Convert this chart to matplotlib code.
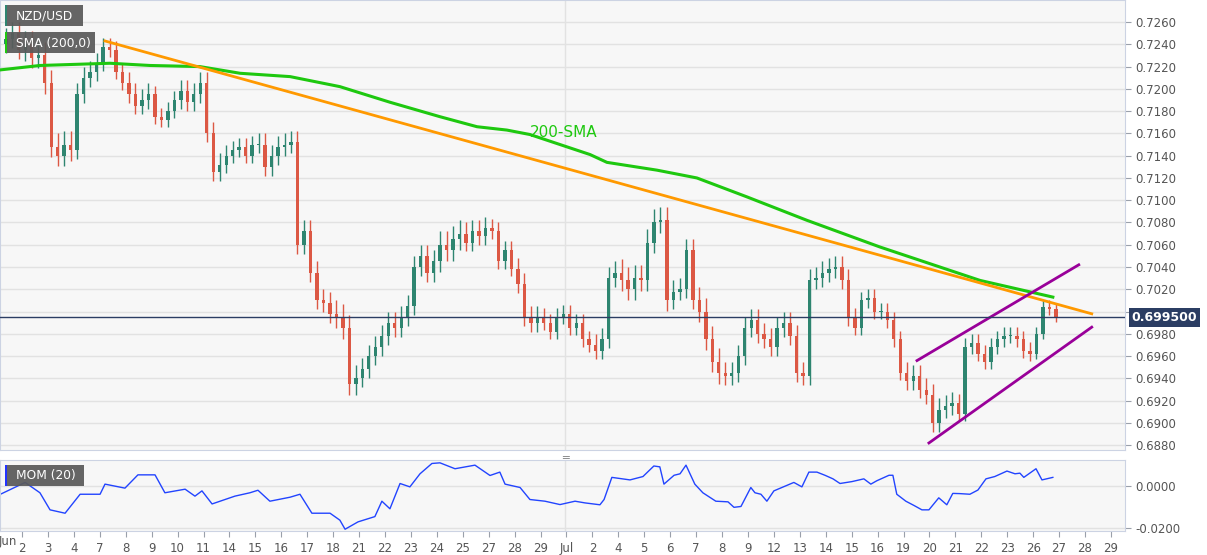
import numpy as np
import matplotlib
matplotlib.use('Agg')
import matplotlib.pyplot as plt
from matplotlib.patches import Rectangle

# 4h-ish closes, 3 candles for Jun 1 then 4 per trading day
closes = [0.7245, 0.7250, 0.7235,
          0.7240, 0.7228, 0.7230, 0.7205,
          0.7148, 0.7140, 0.7150, 0.7145,
          0.7195, 0.7210, 0.7215, 0.7222,
          0.7238, 0.7235, 0.7215, 0.7205,
          0.7195, 0.7185, 0.7190, 0.7195,
          0.7175, 0.7172, 0.7180, 0.7190,
          0.7198, 0.7188, 0.7195, 0.7205,
          0.7160, 0.7125, 0.7132, 0.7140,
          0.7145, 0.7148, 0.7140, 0.7150,
          0.7150, 0.7130, 0.7140, 0.7148,
          0.7150, 0.7152, 0.7060, 0.7072,
          0.7035, 0.7010, 0.7008, 0.6998,
          0.6995, 0.6985, 0.6935, 0.6940,
          0.6948, 0.6960, 0.6968, 0.6978,
          0.6990, 0.6985, 0.6995, 0.7005,
          0.7040, 0.7050, 0.7035, 0.7045,
          0.7060, 0.7055, 0.7065, 0.7070,
          0.7062, 0.7072, 0.7068, 0.7075,
          0.7072, 0.7045, 0.7055, 0.7038,
          0.7025, 0.6995, 0.6990, 0.6995,
          0.6990, 0.6982, 0.6995, 0.6998,
          0.6985, 0.6990, 0.6975, 0.6970,
          0.6965, 0.6975, 0.7030, 0.7035,
          0.7028, 0.7020, 0.7030, 0.7028,
          0.7062, 0.7080, 0.7082, 0.7010,
          0.7018, 0.7020, 0.7055, 0.7010,
          0.7000, 0.6975, 0.6955, 0.6945,
          0.6942, 0.6945, 0.6960, 0.6985,
          0.6992, 0.6980, 0.6975, 0.6968,
          0.6985, 0.6990, 0.6978, 0.6945,
          0.6942, 0.7028, 0.7030, 0.7035,
          0.7038, 0.7040, 0.7028, 0.6995,
          0.6985, 0.7010, 0.7012, 0.7000,
          0.7000, 0.6992, 0.6975, 0.6945,
          0.6938, 0.6942, 0.6930, 0.6925,
          0.6900, 0.6912, 0.6915, 0.6918,
          0.6908, 0.6968, 0.6972, 0.6962,
          0.6955, 0.6968, 0.6975, 0.6978,
          0.6978, 0.6975, 0.6965, 0.6962,
          0.6980, 0.7004, 0.7002, 0.6995]
first_open = 0.7240
# wick size per day (Jun 1 first)
day_wick = [0.0010, 0.0012, 0.0012, 0.0010, 0.0008, 0.0010, 0.0008, 0.0010, 0.0010,
            0.0008, 0.0010, 0.0010, 0.0010, 0.0012, 0.0010, 0.0010, 0.0010, 0.0012,
            0.0010, 0.0008, 0.0010, 0.0008, 0.0008, 0.0010, 0.0012, 0.0012, 0.0010,
            0.0012, 0.0010, 0.0010, 0.0010, 0.0010, 0.0010, 0.0008, 0.0008, 0.0010,
            0.0010, 0.0008, 0.0008, 0.0008, 0.0006]

sma_days = [-0.85, 0.69, 3.39, 4.94, 6.86, 8.41, 10.34, 12.26, 14.19, 16.12, 17.55,
            18.70, 19.59, 21.91, 22.56, 24.49, 26.03, 27.96, 30.27, 33.09, 36.95, 39.76]
sma_vals = [0.7217, 0.7221, 0.7223, 0.7221, 0.7220, 0.7214, 0.7211, 0.7202, 0.7188,
            0.7175, 0.7166, 0.7163, 0.7159, 0.7141, 0.7134, 0.7127, 0.7120, 0.7103,
            0.7082, 0.7058, 0.7028, 0.7013]

trend_days, trend_vals = [3.2, 41.26], [0.7243, 0.6998]
chan_up_days, chan_up_vals = [34.52, 40.76], [0.6956, 0.7042]
chan_lo_days, chan_lo_vals = [34.98, 41.26], [0.6882, 0.6986]
last_price = 0.6995

mom_days = [-0.85, 0.12, 0.69, 1.08, 1.66, 2.24, 3.01, 3.20, 3.97, 4.47, 5.13, 5.51,
            6.29, 6.67, 6.94, 7.33, 8.21, 8.79, 9.10, 9.56, 10.34, 10.72, 11.18, 11.88,
            12.26, 12.46, 12.96, 13.61, 13.88, 14.19, 14.58, 14.96, 15.35, 15.81, 16.12,
            16.70, 17.47, 18.05, 18.43, 18.63, 19.21, 19.59, 20.17, 20.75, 21.33, 21.71,
            22.29, 22.45, 22.75, 23.45, 23.95, 24.37, 24.60, 24.76, 25.15, 25.38, 25.61,
            25.95, 26.26, 26.76, 27.23, 27.46, 27.73, 28.11, 28.27, 28.50, 28.73, 29.00,
            29.77, 30.08, 30.35, 30.66, 30.97, 31.28, 31.55, 32.01, 32.47, 32.74, 32.97,
            33.44, 33.59, 33.74, 34.09, 34.40, 34.71, 34.98, 35.36, 35.67, 35.90, 36.17,
            36.56, 36.87, 37.18, 37.52, 37.99, 38.30, 38.49, 38.64, 39.11, 39.34, 39.76]
mom_vals = [-0.0041, 0.0016, -0.0033, -0.0114, -0.0130, -0.0040, -0.0040, 0.0008, -0.0011,
            0.0052, 0.0052, -0.0033, -0.0016, -0.0049, -0.0024, -0.0086, -0.0049, -0.0033,
            -0.0021, -0.0073, -0.0054, -0.0040, -0.0130, -0.0130, -0.0163, -0.0206, -0.0171,
            -0.0146, -0.0073, -0.0109, 0.0011, -0.0005, 0.0057, 0.0106, 0.0109, 0.0081,
            0.0098, 0.0049, 0.0065, 0.0008, -0.0008, -0.0065, -0.0073, -0.0089, -0.0073,
            -0.0081, -0.0090, -0.0065, 0.0040, 0.0028, 0.0044, 0.0094, 0.0090, 0.0008,
            0.0050, 0.0057, 0.0098, 0.0008, -0.0033, -0.0073, -0.0076, -0.0102, -0.0098,
            -0.0008, -0.0033, -0.0040, -0.0073, -0.0024, 0.0016, -0.0005, 0.0065, 0.0065,
            0.0050, 0.0033, 0.0011, 0.0020, 0.0033, 0.0008, 0.0024, 0.0050, 0.0050, -0.0040,
            -0.0073, -0.0093, -0.0114, -0.0114, -0.0057, -0.0090, -0.0036, -0.0037, -0.0040,
            -0.0020, 0.0033, 0.0044, 0.0070, 0.0057, 0.0060, 0.0040, 0.0081, 0.0028, 0.0040]

day_labels = ['2', '3', '4', '7', '8', '9', '10', '11', '14', '15', '16', '17', '18', '21',
              '22', '23', '24', '25', '27', '28', '29', 'Jul', '2', '4', '5', '6', '7', '8',
              '9', '12', '13', '14', '15', '16', '19', '20', '21', '22', '23', '26', '27',
              '28', '29']
price_ticks = np.arange(0.6880, 0.72601, 0.002)
mom_ticks = [0.0, -0.02]

GREEN, RED = '#2e8570', '#dc5844'
BG = '#f7f7f7'
GRID = '#e2e2e2'

fig = plt.figure(figsize=(12.07, 5.55), dpi=100)
fig.patch.set_facecolor('white')
ax = fig.add_axes([0.0, 0.189, 0.932, 0.811])
ax2 = fig.add_axes([0.0, 0.043, 0.932, 0.128])
XL = (-0.85, 42.54)

for a in (ax, ax2):
    a.set_facecolor(BG)
    a.set_xlim(*XL)
    a.yaxis.tick_right()
    for s in a.spines.values():
        s.set_color('#ccd3e3')
    a.tick_params(axis='y', colors='#9aa0aa', labelcolor='#555555', labelsize=8.5, length=4)
    a.axvline(20.95, color=GRID, lw=1, zorder=0)

ax.set_ylim(0.68756, 0.72798)
ax.set_yticks(price_ticks)
ax.set_yticklabels(['' if abs(v - 0.7) < 1e-6 else f'{v:.4f}' for v in price_ticks])
ax.set_xticks([])
ax.grid(axis='y', color=GRID, lw=1, zorder=0)

# candles
opens = [first_open] + closes[:-1]
for k, (o, c) in enumerate(zip(opens, closes)):
    x = -0.625 + 0.25 * k
    di = (k + 1) // 4
    w = day_wick[min(di, len(day_wick) - 1)]
    col = GREEN if c >= o else RED
    ax.vlines(x, min(o, c) - w * 0.8, max(o, c) + w, color=col, lw=1, zorder=3)
    ax.bar(x, max(abs(c - o), 0.00008), bottom=min(o, c), width=0.13, color=col, zorder=4)

ax.plot(sma_days, sma_vals, color='#1ec80f', lw=2.2, zorder=5)
ax.plot(trend_days, trend_vals, color='#ff9900', lw=2, zorder=5)
ax.plot(chan_up_days, chan_up_vals, color='#990099', lw=2, zorder=5)
ax.plot(chan_lo_days, chan_lo_vals, color='#990099', lw=2, zorder=5)
ax.axhline(last_price, color='#2b3d63', lw=1, zorder=6)
ax.text(19.6, 0.7157, '200-SMA', color='#1ec80f', fontsize=11)
ax.text(1.006, last_price, f'{last_price:.6f}', transform=ax.get_yaxis_transform(),
        va='center', ha='left', color='white', fontsize=9, fontweight='bold',
        bbox=dict(boxstyle='square,pad=0.25', fc='#2b3d63', ec='none'), zorder=10)

# legend boxes in figure pixels (x0, y0_top, width, text, bar colour)
W, H = 1207, 555
for x0, ytop, wd, txt, bar in [(5, 5, 78, 'NZD/USD', GREEN), (5, 32, 90, 'SMA (200,0)', '#1ec80f'),
                               (5, 465, 79, 'MOM (20)', '#2233ff')]:
    fig.patches.append(Rectangle((x0 / W, 1 - (ytop + 21) / H), wd / W, 21 / H,
                                 transform=fig.transFigure, fc='#5a5a5a', ec='none', alpha=0.93, zorder=20))
    fig.patches.append(Rectangle((x0 / W, 1 - (ytop + 21) / H), 2 / W, 21 / H,
                                 transform=fig.transFigure, fc=bar, ec='none', zorder=21))
    fig.text((x0 + 11) / W, 1 - (ytop + 11) / H, txt, color='white', fontsize=8.8,
             va='center', ha='left', zorder=22)

ax2.plot(mom_days, mom_vals, color='#2244ff', lw=1)
ax2.set_ylim(-0.0215, 0.0122)
ax2.set_yticks(mom_ticks)
ax2.set_yticklabels(['0.0000', '-0.0200'])
ax2.grid(axis='y', color=GRID, lw=1, zorder=0)
ax2.set_xticks(range(len(day_labels)))
ax2.set_xticklabels(day_labels)
ax2.tick_params(axis='x', colors='#9aa0aa', labelcolor='#555555', labelsize=8.5, length=4)
fig.text(8 / W, 1 - 541 / H, 'Jun', color='#555555', fontsize=8.5, ha='center', va='center')
# pane separator handle
fig.text(565 / W, 1 - 457 / H, '\u2550', color='#888888', fontsize=8, ha='center', va='center')

fig.savefig('out.png', dpi=100, facecolor='white')
